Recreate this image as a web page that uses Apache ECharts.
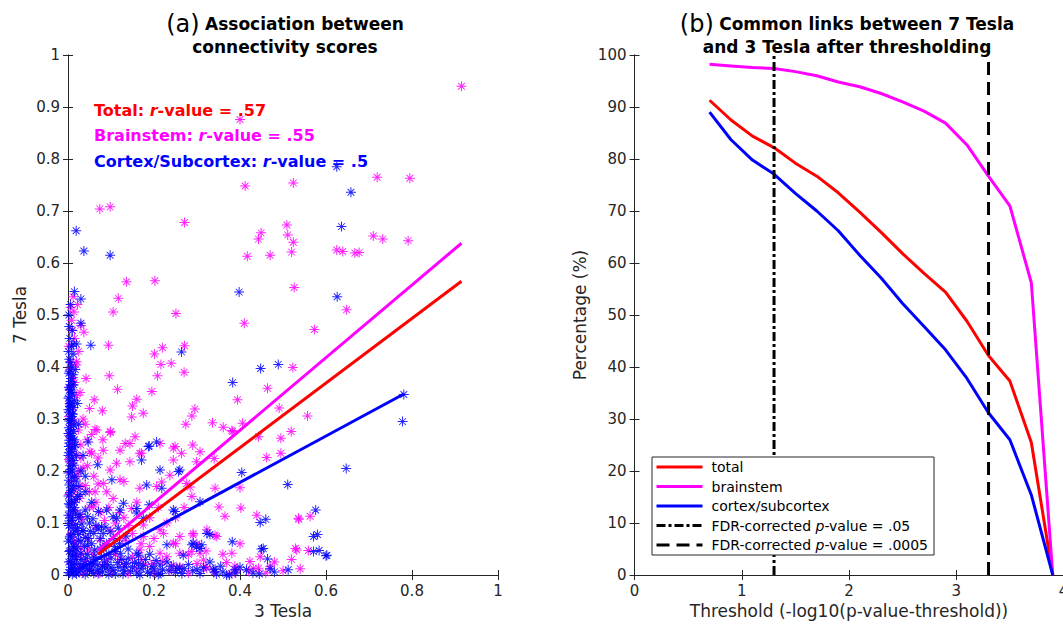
<!DOCTYPE html>
<html>
<head>
<meta charset="utf-8">
<script src="https://cdn.jsdelivr.net/npm/echarts@6/dist/echarts.min.js"></script>
<style>
  html, body { margin: 0; padding: 0; background: #fff; }
  #chart { width: 1063px; height: 625px; }
</style>
</head>
<body>
<div id="chart"></div>
<script>
// ---- panel (a): scatter of connectivity scores, [3 Tesla, 7 Tesla] ----
const brainstemPoints = [
  [0.915, 0.94], [0.40, 0.876], [0.412, 0.748], [0.524, 0.754], [0.719, 0.765], [0.795, 0.763],
  [0.074, 0.704], [0.098, 0.708], [0.271, 0.678], [0.509, 0.673], [0.449, 0.658], [0.443, 0.646],
  [0.511, 0.654], [0.524, 0.640], [0.520, 0.621], [0.417, 0.613], [0.470, 0.615], [0.625, 0.625],
  [0.639, 0.622], [0.667, 0.619], [0.677, 0.620], [0.710, 0.652], [0.732, 0.646], [0.791, 0.643],
  [0.136, 0.564], [0.202, 0.566], [0.012, 0.535], [0.117, 0.532], [0.014, 0.506], [0.105, 0.506],
  [0.251, 0.503], [0.526, 0.553], [0.648, 0.510], [0.410, 0.484], [0.573, 0.472], [0.009, 0.471],
  [0.037, 0.467], [0.094, 0.442], [0.271, 0.441], [0.220, 0.437], [0.201, 0.425], [0.005, 0.410],
  [0.019, 0.404], [0.216, 0.405], [0.240, 0.407], [0.270, 0.390], [0.208, 0.383], [0.096, 0.383],
  [0.042, 0.378], [0.523, 0.399], [0.464, 0.359], [0.394, 0.337], [0.115, 0.357], [0.195, 0.353],
  [0.028, 0.351], [0.061, 0.337], [0.160, 0.338], [0.406, 0.292], [0.336, 0.293], [0.361, 0.284],
  [0.383, 0.276], [0.295, 0.319], [0.288, 0.306], [0.274, 0.290], [0.175, 0.311], [0.148, 0.304],
  [0.150, 0.325], [0.080, 0.316], [0.063, 0.280], [0.099, 0.276], [0.081, 0.260], [0.156, 0.266],
  [0.133, 0.253], [0.144, 0.253], [0.249, 0.247], [0.290, 0.250], [0.491, 0.321], [0.557, 0.306],
  [0.381, 0.278], [0.443, 0.266], [0.495, 0.263], [0.519, 0.276], [0.307, 0.237], [0.340, 0.224],
  [0.462, 0.226], [0.495, 0.234], [0.400, 0.168], [0.351, 0.131], [0.402, 0.129], [0.365, 0.113],
  [0.439, 0.115], [0.537, 0.107], [0.563, 0.113], [0.529, 0.051], [0.559, 0.047], [0.342, 0.076],
  [0.381, 0.042], [0.321, 0.046], [0.423, 0.026], [0.443, 0.013], [0.470, 0.016], [0.369, 0.024],
  [0.388, 0.017], [0.319, 0.016], [0.067, 0.279], [0.098, 0.274], [0.051, 0.237], [0.082, 0.240],
  [0.113, 0.215], [0.144, 0.218], [0.171, 0.234], [0.214, 0.253], [0.245, 0.244], [0.264, 0.234],
  [0.245, 0.221], [0.299, 0.218], [0.098, 0.202], [0.121, 0.183], [0.063, 0.160], [0.105, 0.147],
  [0.167, 0.167], [0.218, 0.179], [0.237, 0.192], [0.284, 0.169], [0.288, 0.151], [0.342, 0.167],
  [0.536, 0.109], [0.175, 0.074], [0.222, 0.080], [0.245, 0.061], [0.291, 0.080], [0.260, 0.042],
  [0.307, 0.042], [0.323, 0.013], [0.346, 0.074], [0.447, 0.035], [0.532, 0.048], [0.431, 0.013],
  [0.392, 0.010], [0.055, 0.234], [0.121, 0.240], [0.167, 0.234], [0.028, 0.170], [0.082, 0.176],
  [0.059, 0.131], [0.028, 0.112], [0.148, 0.128], [0.206, 0.170], [0.276, 0.176], [0.175, 0.096],
  [0.214, 0.087], [0.260, 0.074], [0.291, 0.077], [0.288, 0.045], [0.323, 0.087], [0.133, 0.067],
  [0.167, 0.048], [0.214, 0.042], [0.198, 0.022], [0.245, 0.019], [0.315, 0.029], [0.074, 0.067],
  [0.047, 0.048],
  // dense part near the axes
  [0.004, 0.330], [0.010, 0.318], [0.002, 0.305], [0.016, 0.296], [0.006, 0.287], [0.024, 0.279],
  [0.003, 0.268], [0.012, 0.259], [0.030, 0.250], [0.007, 0.241], [0.018, 0.232], [0.002, 0.222],
  [0.011, 0.214], [0.035, 0.206], [0.005, 0.197], [0.021, 0.189], [0.008, 0.180], [0.040, 0.172],
  [0.014, 0.163], [0.003, 0.155], [0.027, 0.147], [0.009, 0.139], [0.050, 0.131], [0.017, 0.123],
  [0.005, 0.115], [0.033, 0.107], [0.012, 0.099], [0.065, 0.092], [0.022, 0.085], [0.007, 0.078],
  [0.045, 0.071], [0.015, 0.064], [0.090, 0.058], [0.030, 0.052], [0.010, 0.046], [0.060, 0.040],
  [0.020, 0.034], [0.120, 0.030], [0.040, 0.026], [0.008, 0.022], [0.080, 0.018], [0.025, 0.014],
  [0.160, 0.012], [0.050, 0.010], [0.012, 0.007], [0.100, 0.006], [0.035, 0.004], [0.200, 0.005],
  [0.070, 0.002], [0.140, 0.003], [0.240, 0.008], [0.280, 0.004], [0.340, 0.006], [0.380, 0.003],
  [0.420, 0.007], [0.460, 0.004], [0.500, 0.008], [0.540, 0.012], [0.180, 0.020], [0.220, 0.026],
  [0.260, 0.016], [0.300, 0.022], [0.110, 0.040], [0.150, 0.034], [0.190, 0.055], [0.230, 0.035],
  [0.085, 0.105], [0.120, 0.120], [0.100, 0.085], [0.140, 0.095], [0.060, 0.190], [0.045, 0.210],
  [0.070, 0.225], [0.035, 0.300], [0.020, 0.345], [0.050, 0.320], [0.015, 0.370], [0.025, 0.430],
  [0.008, 0.490], [0.030, 0.040], [0.055, 0.025], [0.018, 0.060], [0.065, 0.140], [0.090, 0.160],
  [0.130, 0.180], [0.160, 0.140], [0.190, 0.110], [0.210, 0.130], [0.250, 0.110], [0.270, 0.130],
  [0.003, 0.360], [0.012, 0.380], [0.005, 0.395], [0.020, 0.410], [0.002, 0.440], [0.015, 0.455],
  [0.030, 0.480], [0.006, 0.515], [0.022, 0.520], [0.010, 0.250], [0.030, 0.225], [0.045, 0.260],
  [0.040, 0.290], [0.055, 0.270], [0.025, 0.200], [0.050, 0.160], [0.070, 0.175], [0.075, 0.120],
  [0.095, 0.130], [0.110, 0.100], [0.130, 0.110], [0.150, 0.080], [0.170, 0.060], [0.120, 0.070],
  [0.090, 0.030], [0.130, 0.020], [0.170, 0.030], [0.200, 0.070], [0.230, 0.100], [0.250, 0.060],
  [0.280, 0.040], [0.300, 0.060], [0.360, 0.040], [0.400, 0.060], [0.480, 0.025], [0.520, 0.030]
];

const cortexPoints = [
  [0.625, 0.785], [0.658, 0.736], [0.019, 0.662], [0.037, 0.623], [0.098, 0.615], [0.636, 0.670],
  [0.398, 0.544], [0.626, 0.535], [0.030, 0.531], [0.030, 0.484], [0.012, 0.444], [0.020, 0.444],
  [0.053, 0.442], [0.264, 0.429], [0.448, 0.397], [0.489, 0.405], [0.383, 0.370], [0.781, 0.347],
  [0.009, 0.365], [0.005, 0.357], [0.005, 0.330], [0.206, 0.256], [0.189, 0.248], [0.047, 0.256],
  [0.005, 0.324], [0.009, 0.298], [0.005, 0.272], [0.778, 0.295], [0.647, 0.205], [0.511, 0.174],
  [0.404, 0.197], [0.307, 0.141], [0.447, 0.101], [0.460, 0.107], [0.576, 0.125], [0.571, 0.074],
  [0.580, 0.078], [0.584, 0.047], [0.600, 0.037], [0.330, 0.078], [0.382, 0.064], [0.450, 0.050],
  [0.464, 0.031], [0.311, 0.058], [0.388, 0.010], [0.512, 0.010], [0.342, 0.011], [0.307, 0.003],
  [0.375, 0.000], [0.069, 0.212], [0.102, 0.183], [0.171, 0.221], [0.187, 0.247], [0.183, 0.173],
  [0.218, 0.167], [0.260, 0.202], [0.245, 0.125], [0.189, 0.135], [0.160, 0.128], [0.129, 0.138],
  [0.121, 0.125], [0.090, 0.125], [0.071, 0.122], [0.105, 0.112], [0.175, 0.109], [0.078, 0.093],
  [0.098, 0.083], [0.291, 0.061], [0.299, 0.054], [0.230, 0.058], [0.454, 0.051], [0.571, 0.045],
  [0.602, 0.038], [0.136, 0.022], [0.164, 0.022], [0.167, 0.000], [0.214, 0.003], [0.260, 0.013],
  [0.338, 0.010], [0.369, 0.000], [0.214, 0.202], [0.257, 0.199], [0.113, 0.109], [0.160, 0.119],
  [0.249, 0.122], [0.082, 0.080], [0.117, 0.090], [0.164, 0.038], [0.268, 0.038], [0.288, 0.058],
  [0.307, 0.051], [0.214, 0.019], [0.253, 0.013], [0.191, 0.003], [0.323, 0.080], [0.002, 0.247],
  // band along the y axis
  [0.004, 0.392], [0.012, 0.385], [0.006, 0.372], [0.002, 0.361], [0.009, 0.351], [0.003, 0.343],
  [0.015, 0.336], [0.005, 0.327], [0.001, 0.318], [0.011, 0.309], [0.004, 0.301], [0.008, 0.292],
  [0.002, 0.283], [0.013, 0.276], [0.006, 0.268], [0.003, 0.259], [0.017, 0.251], [0.007, 0.243],
  [0.002, 0.235], [0.010, 0.227], [0.004, 0.219], [0.014, 0.211], [0.006, 0.203], [0.001, 0.196],
  [0.009, 0.188], [0.019, 0.181], [0.003, 0.173], [0.011, 0.166], [0.005, 0.158], [0.022, 0.151],
  [0.008, 0.144], [0.002, 0.137], [0.015, 0.130], [0.006, 0.123], [0.028, 0.117], [0.010, 0.110],
  [0.003, 0.104], [0.018, 0.097], [0.007, 0.091], [0.035, 0.085], [0.012, 0.079], [0.004, 0.073],
  [0.024, 0.067], [0.009, 0.062], [0.045, 0.057], [0.016, 0.052], [0.005, 0.047], [0.030, 0.042],
  [0.011, 0.038], [0.060, 0.034], [0.020, 0.030], [0.006, 0.026], [0.040, 0.022], [0.014, 0.019],
  [0.080, 0.016], [0.027, 0.013], [0.008, 0.010], [0.055, 0.008], [0.018, 0.006], [0.003, 0.004],
  [0.008, 0.400], [0.003, 0.415], [0.012, 0.425], [0.004, 0.455], [0.010, 0.470], [0.002, 0.500],
  [0.006, 0.520], [0.015, 0.545],
  [0.001, 0.005], [0.007, 0.015], [0.002, 0.025], [0.010, 0.035], [0.003, 0.045], [0.013, 0.055],
  [0.001, 0.065], [0.006, 0.075], [0.016, 0.085], [0.002, 0.095], [0.009, 0.105], [0.001, 0.115],
  [0.012, 0.125], [0.004, 0.135], [0.018, 0.145], [0.001, 0.152], [0.007, 0.162], [0.013, 0.172],
  [0.002, 0.182], [0.016, 0.190], [0.005, 0.210], [0.012, 0.220], [0.001, 0.230], [0.008, 0.238],
  [0.015, 0.246], [0.003, 0.254], [0.010, 0.262], [0.001, 0.272], [0.006, 0.280], [0.014, 0.288],
  [0.003, 0.296], [0.009, 0.305], [0.002, 0.313], [0.013, 0.322], [0.007, 0.332], [0.001, 0.340],
  [0.010, 0.348], [0.004, 0.356], [0.013, 0.366], [0.007, 0.378], [0.002, 0.388], [0.017, 0.395],
  [0.006, 0.408], [0.001, 0.430], [0.008, 0.440], [0.003, 0.478],
  // cloud near the origin and band along the x axis
  [0.020, 0.050], [0.030, 0.065], [0.045, 0.040], [0.055, 0.060], [0.065, 0.030], [0.075, 0.050],
  [0.085, 0.025], [0.095, 0.040], [0.035, 0.085], [0.050, 0.100], [0.025, 0.110], [0.040, 0.125],
  [0.060, 0.080], [0.070, 0.010], [0.100, 0.015], [0.110, 0.045], [0.125, 0.030], [0.140, 0.050],
  [0.150, 0.015], [0.180, 0.030], [0.200, 0.012], [0.230, 0.025], [0.250, 0.005], [0.280, 0.020],
  [0.300, 0.010], [0.330, 0.025], [0.360, 0.006], [0.400, 0.015], [0.430, 0.004], [0.480, 0.006],
  [0.015, 0.140], [0.025, 0.170], [0.010, 0.200], [0.020, 0.230], [0.030, 0.200], [0.015, 0.260],
  [0.025, 0.290], [0.010, 0.310], [0.040, 0.160], [0.055, 0.140], [0.012, 0.012], [0.030, 0.020],
  [0.050, 0.008], [0.020, 0.002], [0.040, 0.001], [0.060, 0.003], [0.080, 0.006], [0.110, 0.002],
  [0.130, 0.008], [0.160, 0.004],
  [0.010, 0.001], [0.025, 0.006], [0.045, 0.012], [0.058, 0.018], [0.072, 0.004], [0.088, 0.012],
  [0.095, 0.001], [0.105, 0.009], [0.118, 0.015], [0.128, 0.002], [0.145, 0.007], [0.155, 0.024],
  [0.170, 0.012], [0.185, 0.006], [0.195, 0.016], [0.210, 0.001], [0.220, 0.010], [0.240, 0.017],
  [0.265, 0.003], [0.290, 0.008], [0.315, 0.014], [0.345, 0.002], [0.355, 0.017], [0.390, 0.004],
  [0.415, 0.010], [0.445, 0.002], [0.470, 0.012], [0.030, 0.030], [0.018, 0.040], [0.038, 0.055],
  [0.048, 0.070], [0.022, 0.090], [0.065, 0.095], [0.075, 0.070], [0.090, 0.060], [0.105, 0.070],
  [0.120, 0.060], [0.135, 0.075], [0.028, 0.155], [0.040, 0.190], [0.035, 0.230], [0.022, 0.330],
  [0.015, 0.022], [0.035, 0.012], [0.042, 0.032], [0.052, 0.022], [0.062, 0.048], [0.068, 0.020],
  [0.078, 0.036], [0.083, 0.052], [0.092, 0.020], [0.100, 0.032], [0.108, 0.055], [0.115, 0.024],
  [0.122, 0.042], [0.132, 0.016], [0.140, 0.032], [0.025, 0.078], [0.040, 0.072], [0.052, 0.084],
  [0.070, 0.088], [0.058, 0.108], [0.032, 0.098], [0.045, 0.112], [0.018, 0.118], [0.088, 0.092],
  [0.175, 0.018], [0.190, 0.040], [0.160, 0.042], [0.205, 0.028], [0.235, 0.008], [0.270, 0.012]
];

// regression lines (visible parts, endpoints)
const totalFit = [[0.070, 0.040], [0.915, 0.565]];
const brainstemFit = [[0.070, 0.048], [0.915, 0.638]];
const cortexFit = [[0.030, 0.013], [0.781, 0.348]];

const fitLabels = [
  { name: "Total", r: ".57", color: "#ff0000" },
  { name: "Brainstem", r: ".55", color: "#ff00ff" },
  { name: "Cortex/Subcortex", r: ".5", color: "#0000ff" },
];

// ---- panel (b): common links after thresholding (%) ----
const thresholds = [0.7, 0.9, 1.1, 1.3, 1.5, 1.7, 1.9, 2.1, 2.3, 2.5, 2.7, 2.9, 3.1, 3.3, 3.5, 3.7, 3.9];
const totalPct = [91.3, 87.5, 84.4, 82.2, 79.2, 76.7, 73.5, 69.8, 65.9, 61.8, 58.0, 54.4, 48.8, 42.2, 37.3, 25.5, 0];
const brainstemPct = [98.2, 97.9, 97.6, 97.4, 96.8, 96.0, 94.8, 93.9, 92.6, 91.0, 89.2, 86.9, 82.7, 76.7, 71.0, 56.2, 0];
const cortexPct = [89.0, 83.7, 79.8, 77.1, 73.4, 70.0, 66.2, 61.5, 57.1, 52.2, 47.8, 43.3, 37.8, 31.2, 26.0, 15.4, 0];

// FDR-corrected thresholds (vertical lines)
const fdr05 = 1.301;
const fdr0005 = 3.301;

const FONT = "DejaVu Sans";
const AXIS_COLOR = "#262626";
// asterisk marker built from 4 thin bars
const ASTERISK =
  "path://M9 0H11V20H9Z M0 9H20V11H0Z M2.6 3.9L3.9 2.6L17.4 16.1L16.1 17.4Z M16.1 2.6L17.4 3.9L3.9 17.4L2.6 16.1Z";

function axisBase(extra) {
  return Object.assign(
    {
      type: "value",
      axisLine: { show: true, lineStyle: { color: AXIS_COLOR, width: 1 } },
      axisTick: { show: true, inside: true, length: 5, lineStyle: { color: AXIS_COLOR } },
      axisLabel: { color: AXIS_COLOR, fontSize: 15, fontFamily: FONT, margin: 8 },
      splitLine: { show: false },
      nameTextStyle: { color: AXIS_COLOR, fontSize: 17, fontFamily: FONT },
    },
    extra
  );
}

function pair(xs, ys) {
  return xs.map((x, i) => [x, ys[i]]);
}

const titleRich = {
  p: { fontSize: 24, fontWeight: "normal", fontFamily: FONT, color: "#000", lineHeight: 23 },
  b: { fontSize: 17, fontWeight: "bold", fontFamily: FONT, color: "#000", lineHeight: 23 },
};

const chart = echarts.init(document.getElementById("chart"), null, { renderer: "svg" });

const options = {
  animation: false,
  backgroundColor: "#fff",
  textStyle: { fontFamily: FONT },
  title: [
    {
      text: "{p|(a)} {b|Association between}\n{b|connectivity scores}",
      left: 280,
      top: 7,
      textAlign: "center",
      textStyle: { fontWeight: "normal", fontSize: 17, rich: titleRich },
    },
    {
      text: "{p|(b)} {b|Common links between 7 Tesla}\n{b|and 3 Tesla after thresholding}",
      left: 842,
      top: 7,
      textAlign: "center",
      textStyle: { fontWeight: "normal", fontSize: 17, rich: titleRich },
    },
  ].concat(
    fitLabels.map((f, i) => ({
      text: "{n|" + f.name + ": }{i|r}{n|-value = " + f.r + "}",
      left: 89,
      top: 97 + i * 25.5,
      textStyle: {
        rich: {
          n: { fontSize: 16, fontWeight: "bold", fontFamily: FONT, color: f.color },
          i: { fontSize: 16, fontWeight: "bold", fontStyle: "italic", fontFamily: FONT, color: f.color },
        },
      },
    }))
  ),
  grid: [
    { left: 68, top: 55, width: 430, height: 520, containLabel: false, outerBoundsMode: "none" },
    { left: 634.5, top: 55, width: 429, height: 520, containLabel: false, outerBoundsMode: "none" },
  ],
  xAxis: [
    axisBase({ gridIndex: 0, min: 0, max: 1, interval: 0.2, name: "3 Tesla", nameLocation: "middle", nameGap: 25 }),
    axisBase({ gridIndex: 0, position: "top", min: 0, max: 1, interval: 0.2, axisLabel: { show: false } }),
    axisBase({
      gridIndex: 1, min: 0, max: 4, interval: 1,
      name: "Threshold (-log10(p-value-threshold))", nameLocation: "middle", nameGap: 25,
    }),
    axisBase({ gridIndex: 1, position: "top", min: 0, max: 4, interval: 1, axisLabel: { show: false } }),
  ],
  yAxis: [
    axisBase({ gridIndex: 0, min: 0, max: 1, interval: 0.1, name: "7 Tesla", nameLocation: "middle", nameGap: 40 }),
    axisBase({ gridIndex: 0, position: "right", min: 0, max: 1, interval: 0.1, axisLabel: { show: false } }),
    axisBase({
      gridIndex: 1, min: 0, max: 100, interval: 10,
      name: "Percentage (%)", nameLocation: "middle", nameGap: 46,
    }),
    axisBase({ gridIndex: 1, position: "right", min: 0, max: 100, interval: 10, axisLabel: { show: false } }),
  ],
  legend: {
    data: ["total", "brainstem", "cortex/subcortex", "fdr05", "fdr0005"],
    orient: "vertical",
    left: 652,
    top: 457,
    itemWidth: 46,
    itemHeight: 14,
    itemGap: 5.5,
    padding: [3, 6, 3, 3],
    borderColor: AXIS_COLOR,
    borderWidth: 1,
    backgroundColor: "#fff",
    selectedMode: false,
    itemStyle: { opacity: 0 },
    lineStyle: { width: 3 },
    formatter: function (name) {
      if (name == "fdr05") return "{n|FDR-corrected }{i|p}{n|-value = .05}";
      if (name == "fdr0005") return "{n|FDR-corrected }{i|p}{n|-value = .0005}";
      return "{n|" + name + "}";
    },
    textStyle: {
      fontSize: 14,
      color: "#000",
      padding: [0, 0, 0, 4],
      rich: {
        n: { fontSize: 14, fontFamily: FONT, color: "#000" },
        i: { fontSize: 14, fontFamily: FONT, fontStyle: "italic", color: "#000" },
      },
    },
  },
  series: [
    {
      name: "Brainstem",
      type: "scatter",
      xAxisIndex: 0,
      yAxisIndex: 0,
      symbol: ASTERISK,
      symbolSize: 10,
      itemStyle: { color: "#ff00ff", opacity: 0.85 },
      data: brainstemPoints,
    },
    {
      name: "Brainstem fit",
      type: "line",
      xAxisIndex: 0,
      yAxisIndex: 0,
      symbol: "none",
      lineStyle: { color: "#ff00ff", width: 3 },
      data: brainstemFit,
    },
    {
      name: "Total fit",
      type: "line",
      xAxisIndex: 0,
      yAxisIndex: 0,
      symbol: "none",
      lineStyle: { color: "#ff0000", width: 3 },
      data: totalFit,
    },
    {
      name: "Cortex/Subcortex",
      type: "scatter",
      xAxisIndex: 0,
      yAxisIndex: 0,
      symbol: ASTERISK,
      symbolSize: 10,
      itemStyle: { color: "#0000ff", opacity: 0.85 },
      data: cortexPoints,
    },
    {
      name: "Cortex fit",
      type: "line",
      xAxisIndex: 0,
      yAxisIndex: 0,
      symbol: "none",
      lineStyle: { color: "#0000ff", width: 3 },
      data: cortexFit,
    },
    // panel (b)
    {
      name: "total",
      type: "line",
      xAxisIndex: 2,
      yAxisIndex: 2,
      symbol: "none",
      color: "#ff0000",
      lineStyle: { color: "#ff0000", width: 3 },
      data: pair(thresholds, totalPct),
    },
    {
      name: "brainstem",
      type: "line",
      xAxisIndex: 2,
      yAxisIndex: 2,
      symbol: "none",
      color: "#ff00ff",
      lineStyle: { color: "#ff00ff", width: 3 },
      data: pair(thresholds, brainstemPct),
    },
    {
      name: "cortex/subcortex",
      type: "line",
      xAxisIndex: 2,
      yAxisIndex: 2,
      symbol: "none",
      color: "#0000ff",
      lineStyle: { color: "#0000ff", width: 3 },
      data: pair(thresholds, cortexPct),
    },
    {
      name: "fdr05",
      type: "line",
      xAxisIndex: 2,
      yAxisIndex: 2,
      symbol: "none",
      color: "#000",
      lineStyle: { color: "#000", width: 3, type: [9, 3, 3, 3] },
      data: [[fdr05, 0], [fdr05, 100]],
    },
    {
      name: "fdr0005",
      type: "line",
      xAxisIndex: 2,
      yAxisIndex: 2,
      symbol: "none",
      color: "#000",
      lineStyle: { color: "#000", width: 3, type: [13, 7] },
      data: [[fdr0005, 0], [fdr0005, 100]],
    },
  ],
};

chart.setOption(options);
</script>
</body>
</html>
